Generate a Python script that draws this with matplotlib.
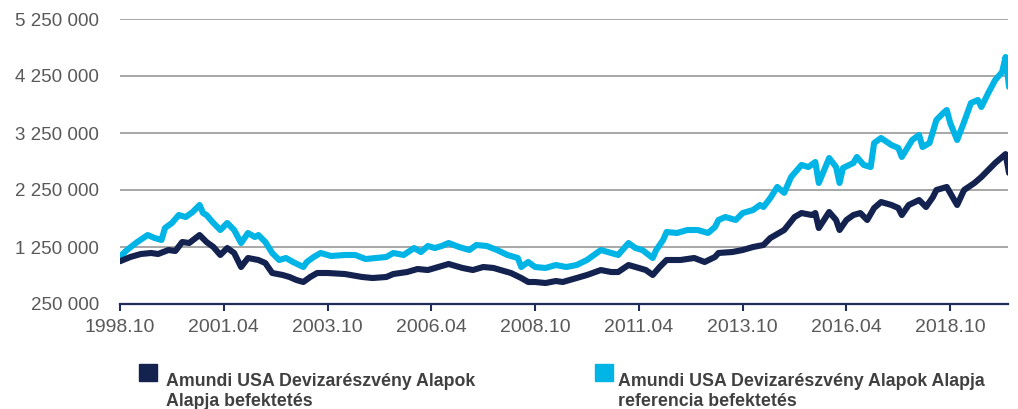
import matplotlib
matplotlib.use("Agg")
import matplotlib.pyplot as plt
from matplotlib.patches import Rectangle

# ---------------- data ----------------
series_names = [
    "Amundi USA Devizarészvény Alapok\nAlapja befektetés",
    "Amundi USA Devizarészvény Alapok Alapja\nreferencia befektetés",
]

fund_dates = [
    "1998-10", "1999-01", "1999-04", "1999-07", "1999-09", "1999-12", "2000-02", "2000-04",
    "2000-06", "2000-09", "2000-11", "2001-01", "2001-03", "2001-05", "2001-07", "2001-09",
    "2001-11", "2002-02", "2002-04", "2002-06", "2002-09", "2002-11", "2003-01", "2003-03",
    "2003-05", "2003-07", "2003-10", "2004-03", "2004-08", "2004-11", "2005-03", "2005-05",
    "2005-09", "2005-12", "2006-03", "2006-06", "2006-09", "2007-01", "2007-04", "2007-07",
    "2007-10", "2007-12", "2008-03", "2008-06", "2008-08", "2008-10", "2009-01", "2009-04",
    "2009-06", "2009-10", "2010-01", "2010-05", "2010-08", "2010-10", "2011-01", "2011-04",
    "2011-06", "2011-08", "2011-10", "2011-12", "2012-04", "2012-08", "2012-11", "2013-02",
    "2013-03", "2013-07", "2013-10", "2014-01", "2014-04", "2014-06", "2014-09", "2014-10",
    "2015-01", "2015-03", "2015-06", "2015-07", "2015-08", "2015-11", "2016-01", "2016-02",
    "2016-04", "2016-06", "2016-08", "2016-10", "2016-12", "2017-02", "2017-05", "2017-07",
    "2017-08", "2017-10", "2018-01", "2018-03", "2018-05", "2018-06", "2018-09", "2018-10",
    "2018-12", "2019-02", "2019-05", "2019-07", "2019-09", "2019-11", "2020-02", "2020-03",
]
fund_values = [
    1000, 1075, 1127, 1145, 1127, 1197, 1180, 1338,
    1320, 1460, 1338, 1250, 1110, 1232, 1145, 899,
    1057, 1022, 969, 794, 759, 724, 671, 636,
    724, 794, 794, 776, 724, 706, 724, 776,
    811, 864, 846, 899, 952, 882, 846, 899,
    882, 846, 794, 706, 636, 636, 618, 653,
    636, 706, 759, 846, 811, 811, 934, 882,
    846, 759, 899, 1022, 1022, 1057, 987, 1075,
    1145, 1162, 1197, 1250, 1285, 1408, 1513, 1548,
    1776, 1846, 1811, 1846, 1583, 1864, 1724, 1548,
    1724, 1811, 1846, 1724, 1934, 2039, 1987, 1934,
    1811, 1987, 2074, 1952, 2127, 2250, 2303, 2197,
    1987, 2250, 2373, 2478, 2601, 2724, 2880, 2548,
]  # thousands of HUF

ref_dates = [
    "1998-10", "1998-12", "1999-03", "1999-06", "1999-08", "1999-10", "1999-11", "2000-01",
    "2000-03", "2000-05", "2000-07", "2000-09", "2000-10", "2000-11", "2001-01", "2001-03",
    "2001-05", "2001-07", "2001-09", "2001-11", "2002-01", "2002-02", "2002-04", "2002-06",
    "2002-08", "2002-10", "2002-12", "2003-03", "2003-04", "2003-06", "2003-08", "2003-11",
    "2004-03", "2004-06", "2004-09", "2004-12", "2005-03", "2005-05", "2005-08", "2005-11",
    "2006-01", "2006-03", "2006-05", "2006-07", "2006-09", "2006-12", "2007-03", "2007-05",
    "2007-08", "2007-11", "2008-02", "2008-05", "2008-06", "2008-08", "2008-10", "2009-01",
    "2009-04", "2009-07", "2009-10", "2010-01", "2010-05", "2010-08", "2010-10", "2011-01",
    "2011-03", "2011-05", "2011-08", "2011-09", "2011-11", "2011-12", "2012-03", "2012-06",
    "2012-09", "2012-12", "2013-02", "2013-03", "2013-05", "2013-08", "2013-10", "2014-01",
    "2014-03", "2014-04", "2014-06", "2014-08", "2014-10", "2014-12", "2015-03", "2015-05",
    "2015-07", "2015-08", "2015-11", "2016-01", "2016-02", "2016-03", "2016-06", "2016-07",
    "2016-09", "2016-11", "2016-12", "2017-02", "2017-05", "2017-07", "2017-08", "2017-11",
    "2018-01", "2018-02", "2018-04", "2018-06", "2018-08", "2018-09", "2018-10", "2018-12",
    "2019-02", "2019-04", "2019-06", "2019-07", "2019-09", "2019-11", "2020-01", "2020-02",
    "2020-03",
]
ref_values = [
    1080, 1197, 1338, 1460, 1408, 1373, 1583, 1671,
    1811, 1776, 1864, 1987, 1846, 1811, 1671, 1548,
    1671, 1548, 1320, 1496, 1425, 1460, 1338, 1145,
    1022, 1057, 987, 899, 987, 1075, 1145, 1092,
    1110, 1110, 1039, 1057, 1075, 1145, 1110, 1232,
    1162, 1268, 1232, 1268, 1320, 1250, 1197, 1285,
    1268, 1197, 1110, 1057, 899, 987, 899, 882,
    934, 899, 934, 1022, 1197, 1145, 1110, 1320,
    1232, 1197, 1057, 1197, 1373, 1513, 1496, 1548,
    1548, 1496, 1601, 1724, 1776, 1724, 1846, 1899,
    1987, 1952, 2110, 2303, 2200, 2478, 2689, 2653,
    2741, 2373, 2811, 2653, 2373, 2636, 2724, 2829,
    2689, 2653, 3074, 3162, 3039, 2987, 2829, 3127,
    3215, 3004, 3074, 3478, 3601, 3653, 3425, 3127,
    3443, 3776, 3829, 3706, 3952, 4180, 4320, 4583,
    4057,
]  # thousands of HUF

x_tick_labels = ["1998.10", "2001.04", "2003.10", "2006.04", "2008.10",
                 "2011.04", "2013.10", "2016.04", "2018.10"]
y_ticks = [250000, 1250000, 2250000, 3250000, 4250000, 5250000]

colors = ["#13224f", "#00b4e6"]

# ---------------- helpers ----------------
START_Y, START_M = 1998, 10


def month_index(s, sep="-"):
    y, m = s.split(sep)
    return (int(y) - START_Y) * 12 + (int(m) - START_M)


def fmt_thousands(v):
    return f"{int(v):,}".replace(",", " ")


# ---------------- figure ----------------
W, H = 1018, 409
fig = plt.figure(figsize=(W / 100, H / 100), dpi=100)
ax = fig.add_axes([120 / W, 1 - 304 / H, (1008 - 120) / W, (304 - 19) / H])

tick_font = ["Liberation Sans", "DejaVu Sans"]
legend_font = ["Liberation Sans", "DejaVu Sans"]

xf = [month_index(d) for d in fund_dates]
xr = [month_index(d) for d in ref_dates]
ax.plot(xr, [v * 1000 for v in ref_values], color=colors[1], lw=4.4,
        solid_joinstyle="round", solid_capstyle="round", zorder=3)
ax.plot(xf, [v * 1000 for v in fund_values], color=colors[0], lw=4.4,
        solid_joinstyle="round", solid_capstyle="round", zorder=4)

ax.set_xlim(0, 256.7)
ax.set_ylim(y_ticks[0], y_ticks[-1])

ax.set_yticks(y_ticks)
ax.set_yticklabels([fmt_thousands(v) for v in y_ticks], family=tick_font,
                   fontsize=13.5, color="#595959")
ax.tick_params(axis="y", length=0, pad=15)
ax.yaxis.grid(True, color="#8f8f8f", lw=1.1)
ax.set_axisbelow(True)

ax.set_xticks([month_index(t, ".") for t in x_tick_labels])
ax.set_xticklabels(x_tick_labels, family=tick_font, fontsize=14, color="#595959")
ax.tick_params(axis="x", length=5, width=1.5, color="#1f2d5a", pad=6, direction="out")

for s in ["top", "right", "left"]:
    ax.spines[s].set_visible(False)
ax.spines["bottom"].set_color("#1f2d5a")
ax.spines["bottom"].set_linewidth(1.6)
ax.spines["bottom"].set_zorder(5)

# ---------------- legend ----------------
sq_x = [139, 595]
txt_x = [166, 618]
for name, col, sx, tx in zip(series_names, colors, sq_x, txt_x):
    fig.patches.append(Rectangle((sx / W, 1 - 381 / H), 17.5 / W, 17 / H,
                                 transform=fig.transFigure, color=col))
    fig.text(tx / W, 1 - 406 / H, name, family=legend_font, fontweight="bold",
             fontsize=12.8, color="#404040", va="baseline", ha="left",
             linespacing=1.25)

fig.savefig("out.png", dpi=100)
